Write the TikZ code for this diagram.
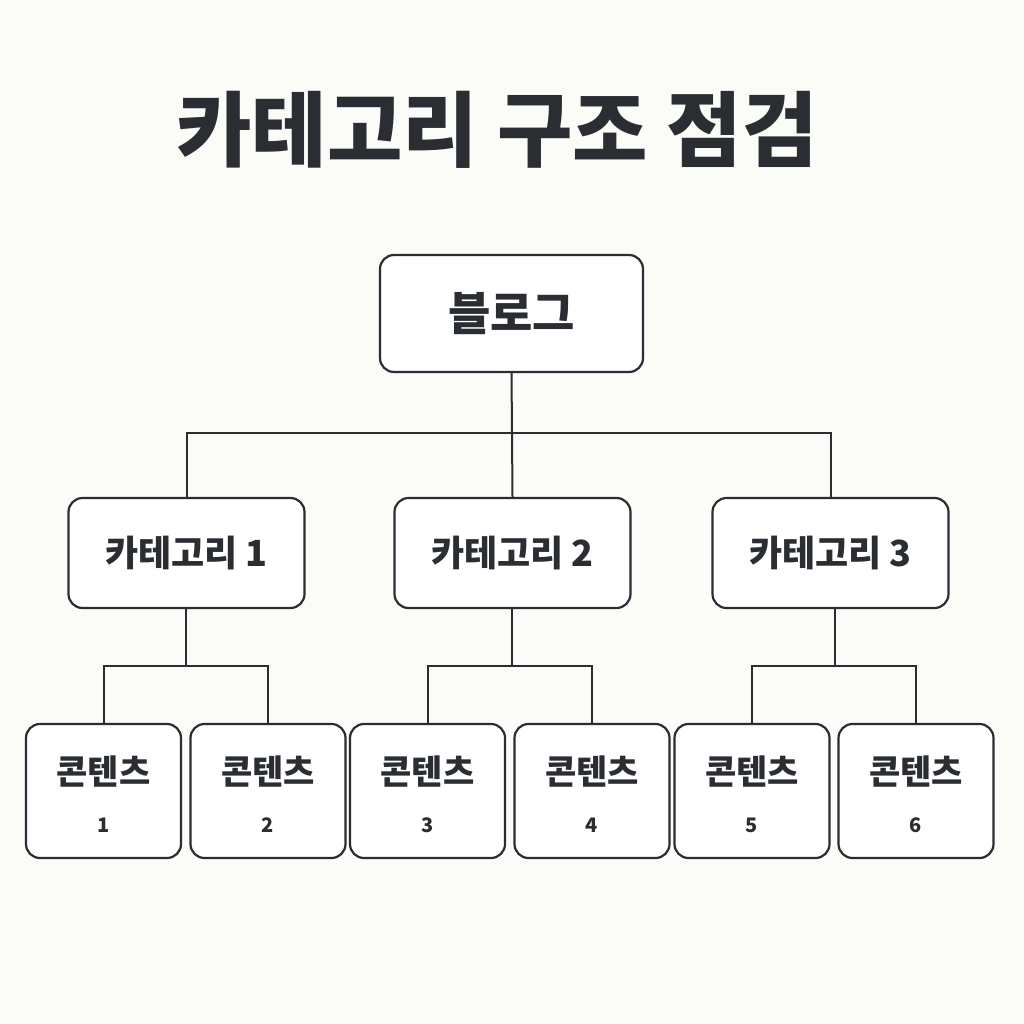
\documentclass[tikz,border=0pt]{standalone}
\usepackage{fontspec}
\setmainfont{Noto Sans CJK KR}
\definecolor{ink}{HTML}{2A2E33}
\definecolor{bg}{HTML}{FBFBF8}
\begin{document}
\begin{tikzpicture}[x=1pt,y=-1pt,
  box/.style={draw=ink,line width=2.2pt,rounded corners=14pt,fill=white,text=ink,inner sep=0pt},
  wire/.style={draw=ink,line width=2pt}]
\fill[bg] (0,0) rectangle (1024,1024);
\useasboundingbox (0,0) rectangle (1024,1024);
\node[text=ink,font=\fontsize{82}{90}\selectfont\bfseries] (title) at (497,130) {카테고리 구조 점검};
\node[box,minimum width=263pt,minimum height=117pt,font=\fontsize{46}{50}\selectfont\bfseries] (blog) at (511.5,313.5) {블로그};
\foreach \i/\x in {1/186.5,2/512.5,3/830.5}{
  \node[box,minimum width=236pt,minimum height=110pt,font=\fontsize{36}{40}\selectfont\bfseries] (c\i) at (\x,553) {카테고리 \i};
}
\foreach \i/\x in {1/103.5,2/268,3/427.5,4/592,5/752,6/916}{
  \node[box,minimum width=155pt,minimum height=134pt] (t\i) at (\x,791) {};
  \node[text=ink,font=\fontsize{34}{38}\selectfont\bfseries] (w\i) at (\x,772) {콘텐츠};
  \node[text=ink,font=\fontsize{20}{22}\selectfont\bfseries] (n\i) at (\x,825) {\i};
}
\coordinate (h0) at (512,433);
\draw[wire] (blog.south) -- (h0);
\draw[wire] (c1.north) |- (h0) -| (c3.north);
\draw[wire] (h0) -- (c2.north);
\foreach \c/\a/\b/\x in {c1/t1/t2/186, c2/t3/t4/512, c3/t5/t6/835}{
  \coordinate (m\c) at (\x,666);
  \draw[wire] (\x,608) -- (m\c);
  \draw[wire] (\a.north) |- (m\c) -| (\b.north);
}
\end{tikzpicture}
\end{document}
